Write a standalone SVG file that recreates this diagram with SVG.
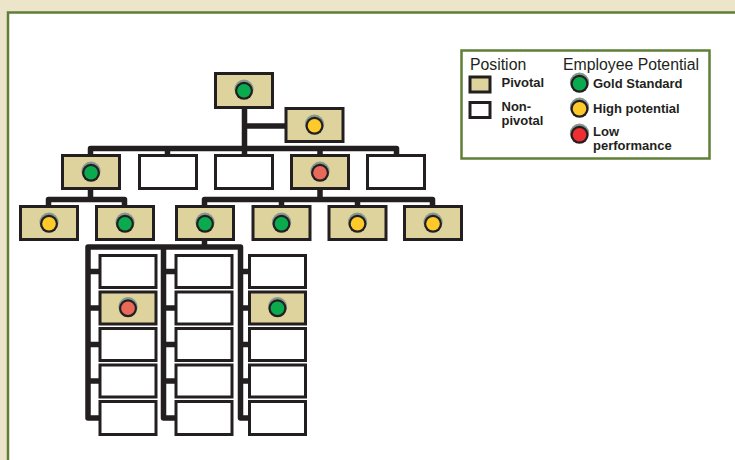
<svg xmlns="http://www.w3.org/2000/svg" width="735" height="460" viewBox="0 0 735 460">
<style>
.bg{fill:#ede5c9}
.frame{fill:#ffffff;stroke:#5f7f37;stroke-width:2.5}
.piv{fill:#ded39d;stroke:#231f20;stroke-width:3}
.non{fill:#ffffff;stroke:#231f20;stroke-width:3}
.con{fill:none;stroke:#231f20;stroke-width:5.5;stroke-linejoin:round;stroke-linecap:butt}
.lg{fill:#ffffff;stroke:#5f7f37;stroke-width:2.5}
.t1{font-family:"Liberation Sans",Arial,sans-serif;font-size:15.8px;fill:#231f20}
.t2{font-family:"Liberation Sans",Arial,sans-serif;font-size:13px;font-weight:bold;fill:#231f20}
</style>
<defs>
<g id="dotG"><circle r="9.6" cy="-0.8" fill="#86988f"/><circle r="9" cy="0.8" fill="#231f20"/><circle r="6.8" cy="0.8" fill="#0aab4f"/></g>
<g id="dotY"><circle r="9.6" cy="-0.8" fill="#86988f"/><circle r="9" cy="0.8" fill="#231f20"/><circle r="6.8" cy="0.8" fill="#fdc92b"/></g>
<g id="dotR"><circle r="9.6" cy="-0.8" fill="#86988f"/><circle r="9" cy="0.8" fill="#231f20"/><circle r="6.8" cy="0.8" fill="#e8695a"/></g>
<g id="dotRL"><circle r="9.6" cy="-0.8" fill="#86988f"/><circle r="9" cy="0.8" fill="#231f20"/><circle r="6.8" cy="0.8" fill="#ee2e31"/></g>
</defs>
<rect class="bg" x="0" y="0" width="735" height="460"/>
<rect class="frame" x="8" y="12.5" width="740" height="460"/>

<g id="connectors">
<path class="con" d="M244.5,107 V155 M244.5,126 H286"/>
<path class="con" d="M90.5,155 V148.5 H396.5 V155 M167.5,148.5 V155 M320,148.5 V155"/>
<path class="con" d="M90.5,188 V199.5 M48.5,206 V199.5 H124.5 V206"/>
<path class="con" d="M320,188 V199.5 M204.5,206 V199.5 H432.5 V206 M281.5,199.5 V206 M357.5,199.5 V206"/>
<path class="con" d="M204.5,240 V247"/>
<path class="con" d="M100,418 H88 V247 H240.5 V418 H249 M163.5,247 V418 H176"/>
<path class="con" d="M88,271.5 H100 M88,308 H100 M88,344.5 H100 M88,381 H100 M163.5,271.5 H176 M163.5,308 H176 M163.5,344.5 H176 M163.5,381 H176 M240.5,271.5 H249 M240.5,308 H249 M240.5,344.5 H249 M240.5,381 H249"/>
</g>

<g id="n-top"><rect class="piv" x="215.5" y="73.5" width="57" height="34"/><use href="#dotG" x="244" y="90"/></g>
<g id="n-assist"><rect class="piv" x="286" y="108.5" width="57" height="33"/><use href="#dotY" x="314.5" y="125"/></g>

<g id="n-l2-1"><rect class="piv" x="62.5" y="155.5" width="57" height="33"/><use href="#dotG" x="91" y="172"/></g>
<g id="n-l2-2"><rect class="non" x="139.5" y="155.5" width="57" height="33"/></g>
<g id="n-l2-3"><rect class="non" x="215.5" y="155.5" width="57" height="33"/></g>
<g id="n-l2-4"><rect class="piv" x="291.5" y="155.5" width="57" height="33"/><use href="#dotR" x="320" y="172"/></g>
<g id="n-l2-5"><rect class="non" x="367.5" y="155.5" width="57" height="33"/></g>

<g id="n-l3-1"><rect class="piv" x="20.5" y="206.5" width="57" height="33"/><use href="#dotY" x="49" y="223"/></g>
<g id="n-l3-2"><rect class="piv" x="96.5" y="206.5" width="57" height="33"/><use href="#dotG" x="125" y="223"/></g>
<g id="n-l3-3"><rect class="piv" x="176.5" y="206.5" width="57" height="33"/><use href="#dotG" x="205" y="223"/></g>
<g id="n-l3-4"><rect class="piv" x="253" y="206.5" width="57" height="33"/><use href="#dotG" x="281.5" y="223"/></g>
<g id="n-l3-5"><rect class="piv" x="329" y="206.5" width="57" height="33"/><use href="#dotY" x="357.5" y="223"/></g>
<g id="n-l3-6"><rect class="piv" x="404.5" y="206.5" width="57" height="33"/><use href="#dotY" x="433" y="223"/></g>

<g id="n-a1"><rect class="non" x="100" y="255.5" width="56" height="32"/></g>
<g id="n-a2"><rect class="piv" x="100" y="292" width="56" height="32"/><use href="#dotR" x="128" y="307.5"/></g>
<g id="n-a3"><rect class="non" x="100" y="328.5" width="56" height="32"/></g>
<g id="n-a4"><rect class="non" x="100" y="365" width="56" height="32"/></g>
<g id="n-a5"><rect class="non" x="100" y="401.5" width="56" height="33"/></g>

<g id="n-b1"><rect class="non" x="176" y="255.5" width="56" height="32"/></g>
<g id="n-b2"><rect class="non" x="176" y="292" width="56" height="32"/></g>
<g id="n-b3"><rect class="non" x="176" y="328.5" width="56" height="32"/></g>
<g id="n-b4"><rect class="non" x="176" y="365" width="56" height="32"/></g>
<g id="n-b5"><rect class="non" x="176" y="401.5" width="56" height="33"/></g>

<g id="n-c1"><rect class="non" x="249.5" y="255.5" width="56" height="32"/></g>
<g id="n-c2"><rect class="piv" x="249.5" y="292" width="56" height="32"/><use href="#dotG" x="277.5" y="307.5"/></g>
<g id="n-c3"><rect class="non" x="249.5" y="328.5" width="56" height="32"/></g>
<g id="n-c4"><rect class="non" x="249.5" y="365" width="56" height="32"/></g>
<g id="n-c5"><rect class="non" x="249.5" y="401.5" width="56" height="33"/></g>

<g id="legend">
<rect class="lg" x="461.5" y="50.5" width="248" height="108"/>
<text class="t1" x="470" y="70">Position</text>
<text class="t1" x="563" y="70">Employee Potential</text>
<rect class="piv" x="470" y="77" width="20" height="15"/>
<text class="t2" x="501.5" y="87">Pivotal</text>
<rect class="non" x="470" y="102.5" width="20" height="15"/>
<text class="t2" x="501.5" y="111">Non-</text>
<text class="t2" x="501.5" y="125">pivotal</text>
<use href="#dotG" x="579.5" y="83"/>
<text class="t2" x="593" y="88">Gold Standard</text>
<use href="#dotY" x="579.5" y="108"/>
<text class="t2" x="593" y="113">High potential</text>
<use href="#dotRL" x="579.5" y="134"/>
<text class="t2" x="593" y="136">Low</text>
<text class="t2" x="593" y="150">performance</text>
</g>
</svg>
